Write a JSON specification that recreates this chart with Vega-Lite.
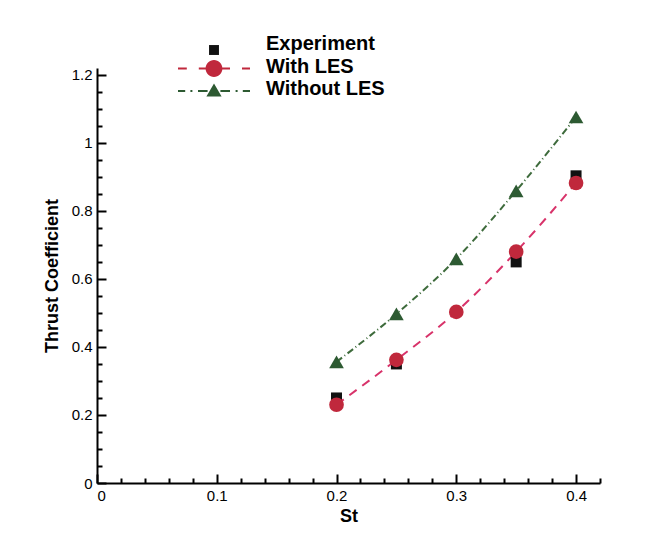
{
  "$schema": "https://vega.github.io/schema/vega-lite/v6.json",
  "autosize": {"type": "none"},
  "padding": {"left": 97, "top": 68, "right": 72, "bottom": 57},
  "width": 503,
  "height": 415,
  "background": "white",
  "config": {
    "view": {"stroke": null},
    "font": "Liberation Sans",
    "axis": {"domainColor": "black", "domainWidth": 2, "tickColor": "black", "tickWidth": 2, "labelColor": "black", "labelFont": "Liberation Sans", "labelFontSize": 15, "titleFont": "Liberation Sans", "titleFontSize": 18, "titleFontWeight": "bold", "titleColor": "black", "grid": false}
  },
  "data": {
    "values": [
      {"series": "Experiment", "st": 0.2, "ct": 0.25},
      {"series": "Experiment", "st": 0.25, "ct": 0.35},
      {"series": "Experiment", "st": 0.35, "ct": 0.65},
      {"series": "Experiment", "st": 0.4, "ct": 0.903},
      {"series": "With LES", "st": 0.2, "ct": 0.23},
      {"series": "With LES", "st": 0.25, "ct": 0.362},
      {"series": "With LES", "st": 0.3, "ct": 0.503},
      {"series": "With LES", "st": 0.35, "ct": 0.68},
      {"series": "With LES", "st": 0.4, "ct": 0.882},
      {"series": "Without LES", "st": 0.2, "ct": 0.356},
      {"series": "Without LES", "st": 0.25, "ct": 0.497},
      {"series": "Without LES", "st": 0.3, "ct": 0.659},
      {"series": "Without LES", "st": 0.35, "ct": 0.859},
      {"series": "Without LES", "st": 0.4, "ct": 1.076}
    ]
  },
  "resolve": {"axis": {"x": "independent", "y": "independent"}, "scale": {"shape": "independent", "color": "independent"}},
  "layer": [
    {
      "transform": [{"filter": "datum.series !== 'Experiment'"}],
      "mark": {"type": "line", "interpolate": "monotone", "strokeWidth": 2},
      "encoding": {
        "x": {"field": "st", "type": "quantitative", "scale": {"domain": [0, 0.42], "nice": false},
          "axis": {"orient": "bottom", "title": "St", "values": [0, 0.1, 0.2, 0.3, 0.4], "format": "~g", "tickSize": -9, "labelPadding": 14, "titlePadding": 4}},
        "y": {"field": "ct", "type": "quantitative", "scale": {"domain": [0, 1.22], "nice": false},
          "axis": {"orient": "left", "title": "Thrust Coefficient", "values": [0, 0.2, 0.4, 0.6, 0.8, 1, 1.2], "format": "~g", "tickSize": -9, "labelPadding": 14, "titlePadding": 10}},
        "stroke": {"field": "series", "type": "nominal", "scale": {"domain": ["With LES", "Without LES"], "range": ["#d8336a", "#3e6b3c"]}, "legend": null},
        "strokeDash": {"field": "series", "type": "nominal", "scale": {"domain": ["With LES", "Without LES"], "range": [[9, 7], [7, 3, 1, 3]]}, "legend": null}
      }
    },
    {
      "mark": {"type": "point", "filled": true, "opacity": 1},
      "encoding": {
        "x": {"field": "st", "type": "quantitative",
          "axis": {"orient": "bottom", "title": null, "labels": false, "domain": false, "values": [0.02, 0.04, 0.06, 0.08, 0.12, 0.14, 0.16, 0.18, 0.22, 0.24, 0.26, 0.28, 0.32, 0.34, 0.36, 0.38, 0.42], "tickSize": -5}},
        "y": {"field": "ct", "type": "quantitative",
          "axis": {"orient": "left", "title": null, "labels": false, "domain": false, "values": [0.05, 0.1, 0.15, 0.25, 0.3, 0.35, 0.45, 0.5, 0.55, 0.65, 0.7, 0.75, 0.85, 0.9, 0.95, 1.05, 1.1, 1.15], "tickSize": -5}},
        "color": {"field": "series", "type": "nominal", "scale": {"domain": ["Experiment", "With LES", "Without LES"], "range": ["#111111", "#c0283c", "#2d5a32"]}, "legend": null},
        "shape": {"field": "series", "type": "nominal", "scale": {"domain": ["Experiment", "With LES", "Without LES"], "range": ["square", "circle", "triangle-up"]}, "legend": null},
        "size": {"condition": {"test": "datum.series === 'Experiment'", "value": 121}, "value": 215}
      }
    },
    {
      "transform": [{"filter": "false"}],
      "mark": {"type": "point", "filled": true, "opacity": 1},
      "encoding": {
        "color": {"field": "series", "type": "nominal", "scale": {"domain": ["Experiment", "With LES", "Without LES"], "range": ["#111111", "#c0283c", "#2d5a32"]},
          "legend": {
            "orient": "none", "legendX": 107, "legendY": -34, "title": null, "padding": 0,
            "symbolSize": 256, "symbolStrokeWidth": 0, "symbolOpacity": 1,
            "labelFont": "Liberation Sans", "labelFontSize": 20, "labelFontWeight": "bold", "labelColor": "black", "labelOffset": 42, "rowPadding": 1.5
          }},
        "shape": {"field": "series", "type": "nominal",
          "scale": {"domain": ["Experiment", "With LES", "Without LES"], "range": [
            "M-0.62,0.13H0.62V1.37H-0.62Z",
            "M-1.05,0.25A1.05,1.05 0 1,1 1.05,0.25A1.05,1.05 0 1,1 -1.05,0.25Z M-4.5,0.12H-3.4V0.38H-4.5Z M-1.9,0.12H-1V0.38H-1.9Z M1,0.12H2V0.38H1Z M3.5,0.12H4.5V0.38H3.5Z",
            "M-0.95,0.95L0.95,0.95L0,-0.7Z M-4.5,0.13H-3.6V0.37H-4.5Z M-2.95,0.13H-2.7V0.37H-2.95Z M-2.0,0.13H-0.8V0.37H-2.0Z M0.8,0.13H2.0V0.37H0.8Z M2.7,0.13H2.95V0.37H2.7Z M3.6,0.13H4.5V0.37H3.6Z"
          ]},
          "legend": {
            "orient": "none", "legendX": 107, "legendY": -34, "title": null, "padding": 0,
            "symbolSize": 256, "symbolStrokeWidth": 0, "symbolOpacity": 1,
            "labelFont": "Liberation Sans", "labelFontSize": 20, "labelFontWeight": "bold", "labelColor": "black", "labelOffset": 42, "rowPadding": 1.5
          }}
      }
    }
  ]
}
